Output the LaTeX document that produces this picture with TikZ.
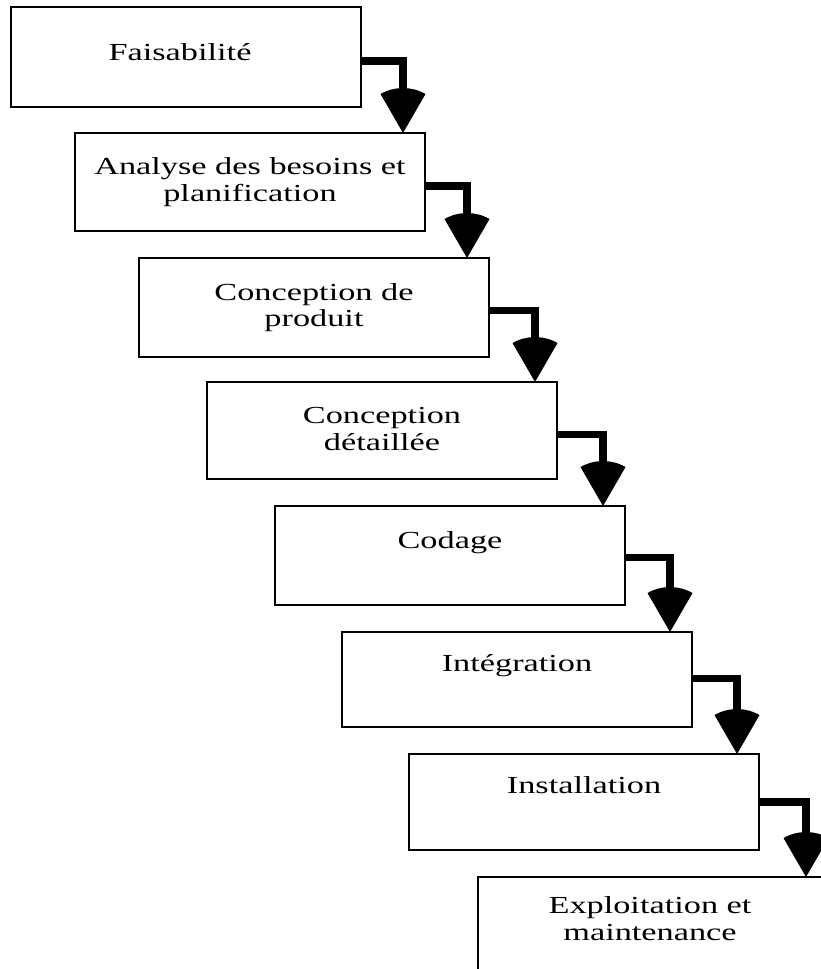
\documentclass[tikz,border=0pt]{standalone}
\usepackage{fontspec}
\setmainfont{Liberation Serif}
\newfontfamily\boxfont[FakeStretch=1.4]{Liberation Serif}
\usetikzlibrary{calc}
\begin{document}
\begin{tikzpicture}[x=1pt,y=1pt,
  stage/.style={draw, rectangle, line width=2.6pt, fill=white, minimum width=350pt, inner sep=0pt, outer sep=0pt, anchor=north west},
  lbl/.style={font=\boxfont\fontsize{24.5}{27}\selectfont, inner sep=0pt, anchor=base},
  conn/.style={line width=7.5pt, line join=miter},
  headfill/.style={fill=black}
]
\useasboundingbox (0,0) rectangle (821,-969);
\clip (0,0) rectangle (821,-969);
% boxes
\node[stage, minimum height=100pt] (b1) at (11,-7) {};
\node[stage, minimum height=98pt]  (b2) at (75,-133) {};
\node[stage, minimum height=99pt]  (b3) at (139,-258) {};
\node[stage, minimum height=97pt]  (b4) at (207,-382) {};
\node[stage, minimum height=99pt]  (b5) at (275,-506) {};
\node[stage, minimum height=95pt]  (b6) at (342,-632) {};
\node[stage, minimum height=96pt]  (b7) at (409,-754) {};
\node[stage, minimum height=150pt] (b8) at (478,-877) {};
% labels
\node[lbl] (t1)  at ($(b1.north)+(-6,-53)$) {Faisabilité};
\node[lbl] (t2a) at ($(b2.north)+(0,-41)$) {Analyse des besoins et};
\node[lbl] (t2b) at ($(b2.north)+(0,-68)$) {planification};
\node[lbl] (t3a) at ($(b3.north)+(0,-42)$) {Conception de};
\node[lbl] (t3b) at ($(b3.north)+(0,-68)$) {produit};
\node[lbl] (t4a) at ($(b4.north)+(0,-41)$) {Conception};
\node[lbl] (t4b) at ($(b4.north)+(0,-68)$) {détaillée};
\node[lbl] (t5)  at ($(b5.north)+(0,-42)$) {Codage};
\node[lbl] (t6)  at ($(b6.north)+(0,-39)$) {Intégration};
\node[lbl] (t7)  at ($(b7.north)+(0,-39)$) {Installation};
\node[lbl] (t8a) at ($(b8.north)+(-3,-36)$) {Exploitation et};
\node[lbl] (t8b) at ($(b8.north)+(-3,-63)$) {maintenance};
% connectors
\foreach \a/\b/\dy in {b1/b2/-4, b2/b3/-4, b3/b4/-3, b4/b5/-4, b5/b6/-2, b6/b7/1, b7/b8/0}{
  \coordinate (tip) at ($(\b.north east)+(-22,0)$);
  \coordinate (st) at ($(\a.east)+(0,\dy)$);
  \draw[conn] (st) -| ($(tip)+(0,42)$);
  \fill[headfill] (tip) -- ++(60:45) arc[start angle=60, end angle=120, radius=45] -- cycle;
}
\end{tikzpicture}
\end{document}
